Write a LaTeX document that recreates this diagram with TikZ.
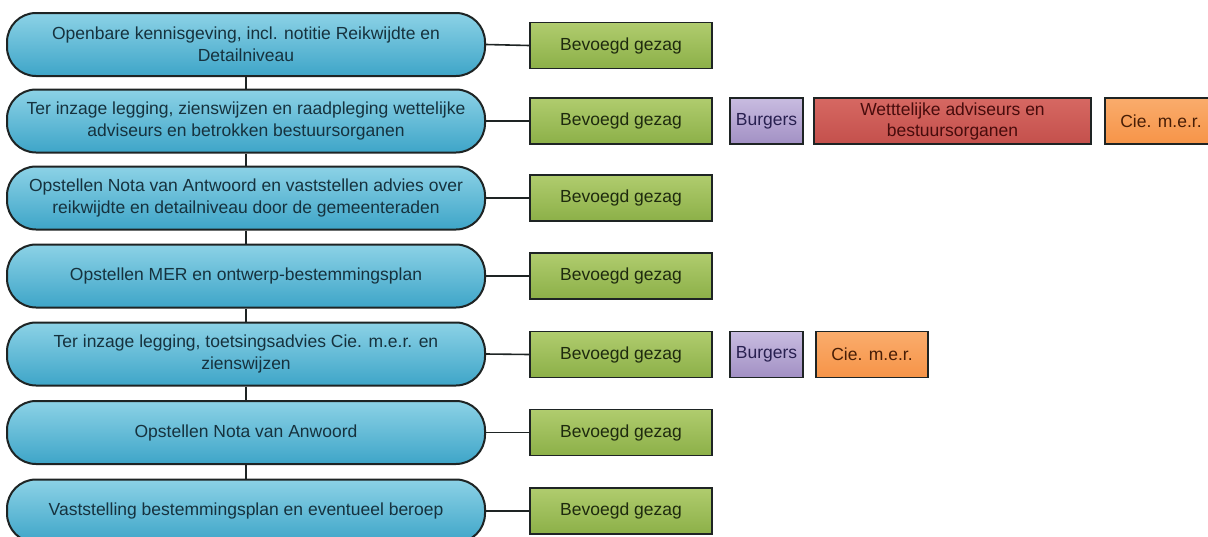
\documentclass[tikz,border=0pt]{standalone}
\usepackage{fontspec}
\setmainfont{Liberation Sans}
\definecolor{bluetop}{RGB}{140,210,230}
\definecolor{bluebot}{RGB}{62,165,200}
\definecolor{bluetext}{RGB}{22,50,62}
\definecolor{greentop}{RGB}{176,204,110}
\definecolor{greenbot}{RGB}{140,176,72}
\definecolor{greentext}{RGB}{30,42,14}
\definecolor{purptop}{RGB}{200,188,224}
\definecolor{purpbot}{RGB}{162,144,196}
\definecolor{purptext}{RGB}{40,32,80}
\definecolor{redtop}{RGB}{214,104,98}
\definecolor{redbot}{RGB}{196,80,76}
\definecolor{redtext}{RGB}{72,12,12}
\definecolor{orangetop}{RGB}{250,172,108}
\definecolor{orangebot}{RGB}{246,148,72}
\definecolor{orangetext}{RGB}{72,30,6}
\definecolor{edge}{RGB}{30,36,36}
\tikzset{
  stage/.style={draw=edge, line width=2pt, rounded corners=29pt,
    top color=bluetop, bottom color=bluebot, text=bluetext,
    minimum width=478pt, minimum height=63pt, align=center, inner sep=0pt,
    font=\fontsize{17.5}{22}\selectfont},
  actor/.style={draw=edge, line width=1.8pt, minimum height=46pt,
    align=center, inner sep=0pt, font=\fontsize{17.5}{21}\selectfont},
  gbox/.style={actor, minimum width=182pt, top color=greentop, bottom color=greenbot, text=greentext},
  pbox/.style={actor, minimum width=73pt, top color=purptop, bottom color=purpbot, text=purptext},
  rbox/.style={actor, minimum width=277pt, top color=redtop, bottom color=redbot, text=redtext},
  obox/.style={actor, minimum width=112pt, top color=orangetop, bottom color=orangebot, text=orangetext},
  link/.style={draw=edge, line width=1.6pt}
}
\begin{document}
\begin{tikzpicture}[x=1pt,y=-1pt]
\useasboundingbox (0,0) rectangle (1208,536);
\fill[white] (0,0) rectangle (1208,536);
\clip (0,0) rectangle (1208,536);
% stages
\node[stage] (b1) at (246,44.5) {Openbare kennisgeving, incl. notitie Reikwijdte en\\Detailniveau};
\node[stage] (b2) at (246,121) {Ter inzage legging, zienswijzen en raadpleging wettelijke\\adviseurs en betrokken bestuursorganen};
\node[stage] (b3) at (246,198) {Opstellen Nota van Antwoord en vaststellen advies over\\reikwijdte en detailniveau door de gemeenteraden};
\node[stage] (b4) at (246,276) {Opstellen MER en ontwerp-bestemmingsplan};
\node[stage] (b5) at (246,354) {Ter inzage legging, toetsingsadvies Cie. m.e.r. en\\zienswijzen};
\node[stage] (b6) at (246,432.5) {Opstellen Nota van Anwoord};
\node[stage] (b7) at (246,511) {Vaststelling bestemmingsplan en eventueel beroep};
% actors
\node[gbox] (g1) at (621,45.5) {Bevoegd gezag};
\node[gbox] (g2) at (621,121) {Bevoegd gezag};
\node[gbox] (g3) at (621,198) {Bevoegd gezag};
\node[gbox] (g4) at (621,276) {Bevoegd gezag};
\node[gbox] (g5) at (621,354.5) {Bevoegd gezag};
\node[gbox] (g6) at (621,432.5) {Bevoegd gezag};
\node[gbox] (g7) at (621,511) {Bevoegd gezag};
\node[pbox] (p2) at (766.5,121) {Burgers};
\node[rbox] (r2) at (952.5,121) {Wetttelijke adviseurs en\\bestuursorganen};
\node[obox] (o2) at (1161,121) {Cie. m.e.r.};
\node[pbox] (p5) at (766.5,354.5) {Burgers};
\node[obox] (o5) at (872,354.5) {Cie. m.e.r.};
% connectors
\foreach \a/\b in {b1/b2,b2/b3,b3/b4,b4/b5,b5/b6,b6/b7}
  \draw[link] (\a.south) -- (\b.north);
\foreach \i in {1,...,7}
  \draw[link] (b\i.east) -- (g\i.west);
\end{tikzpicture}
\end{document}
